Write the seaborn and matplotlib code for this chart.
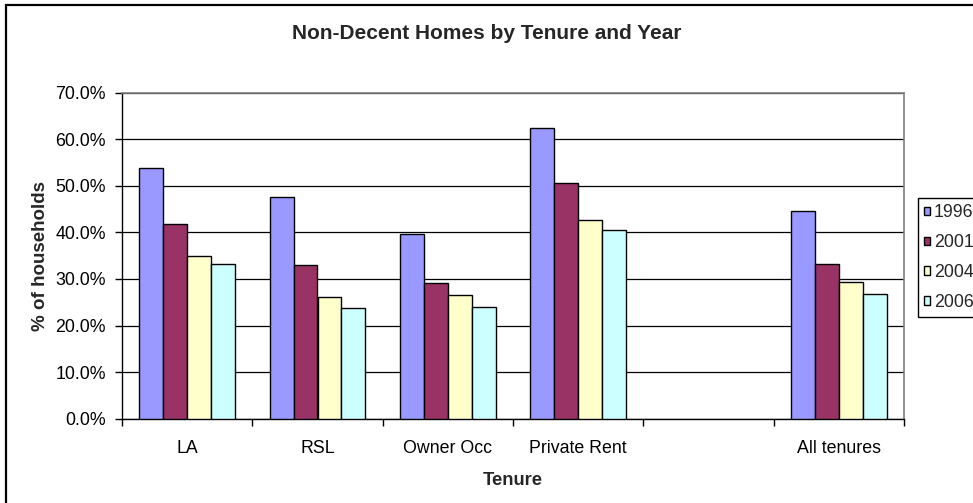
import matplotlib
matplotlib.use("Agg")
import matplotlib.pyplot as plt
import matplotlib.patches as mpatches
from matplotlib.ticker import FuncFormatter, FixedLocator
import seaborn as sns
import pandas as pd

# ---- data ----
tenures = ["LA", "RSL", "Owner Occ", "Private Rent", "All tenures"]
axis_order = ["LA", "RSL", "Owner Occ", "Private Rent", " ", "All tenures"]
years = ["1996", "2001", "2004", "2006"]
v1996 = [53.9, 47.6, 39.7, 62.4, 44.6]
v2001 = [41.7, 32.9, 29.2, 50.7, 33.3]
v2004 = [35.0, 26.2, 26.5, 42.6, 29.3]
v2006 = [33.3, 23.7, 23.9, 40.5, 26.8]
colors = ["#9999FF", "#993366", "#FFFFCC", "#CCFFFF"]
title = "Non-Decent Homes by Tenure and Year"
xlabel = "Tenure"
ylabel = "% of households"

rows = []
for yr, vals in zip(years, [v1996, v2001, v2004, v2006]):
    for t, v in zip(tenures, vals):
        rows.append({"Tenure": t, "Year": yr, "Value": v})
df = pd.DataFrame(rows)

sns.set_style("white")
plt.rcParams["font.family"] = ["Liberation Sans", "DejaVu Sans"]

W, H = 973, 503
fig = plt.figure(figsize=(W / 100, H / 100), dpi=100)
L, R, T, B = 122, 904, 92.7, 418.7
ax = fig.add_axes([L / W, 1 - B / H, (R - L) / W, (B - T) / H])

sns.barplot(data=df, x="Tenure", y="Value", hue="Year", order=axis_order,
            hue_order=years, palette=colors, width=0.734, edgecolor="black",
            linewidth=1, saturation=1, ax=ax, legend=True, zorder=3)

ax.set_xlim(-0.5, 5.5)
ax.set_ylim(0, 70)
ax.set_yticks(range(0, 71, 10))
ax.yaxis.set_major_formatter(FuncFormatter(lambda v, p: f"{v:.1f}%"))
ax.grid(axis="y", color="black", linewidth=0.9, zorder=0)
ax.grid(axis="x", visible=False)
ax.set_axisbelow(True)

ax.xaxis.set_minor_locator(FixedLocator([i - 0.5 for i in range(7)]))
ax.tick_params(axis="x", which="major", length=0, pad=15, labelsize=12.75, colors="black")
ax.tick_params(axis="x", which="minor", length=5, width=1, direction="out", color="black", bottom=True)
ax.tick_params(axis="y", which="major", length=5, width=1, direction="out", color="black",
               left=True, pad=6.5, labelsize=12.75, labelcolor="black")

for s in ["left", "bottom"]:
    ax.spines[s].set_color("black")
    ax.spines[s].set_linewidth(1)
for s in ["top", "right"]:
    ax.spines[s].set_color("#808080")
    ax.spines[s].set_linewidth(1.2)
    ax.spines[s].set_visible(True)

ax.set_xlabel(xlabel, fontsize=13.25, fontweight="bold", labelpad=11)
ax.set_ylabel(ylabel, fontsize=13.5, fontweight="bold", labelpad=5)

handles, labels = ax.get_legend_handles_labels()
ax.get_legend().remove()
leg = fig.legend(handles, labels, loc="upper left",
                 bbox_to_anchor=(917.7 / W, 1 - 198.3 / H), bbox_transform=fig.transFigure,
                 fontsize=12.75, frameon=True, fancybox=False, shadow=False, framealpha=1,
                 handlelength=0.36, handleheight=0.36, handletextpad=0.2,
                 labelspacing=0.72, borderpad=0.35, borderaxespad=0)
leg.get_frame().set_edgecolor("black")
leg.get_frame().set_linewidth(1)

fig.text(0.5, 1 - 33 / H, title, ha="center", va="center", fontsize=15, fontweight="bold")

border = mpatches.Rectangle((6 / W, -0.2), 1.5, 1.2 - 4.7 / H, transform=fig.transFigure,
                            fill=False, edgecolor="black", linewidth=1.6, clip_on=False)
fig.patches.append(border)

fig.savefig("out.png", dpi=100)
